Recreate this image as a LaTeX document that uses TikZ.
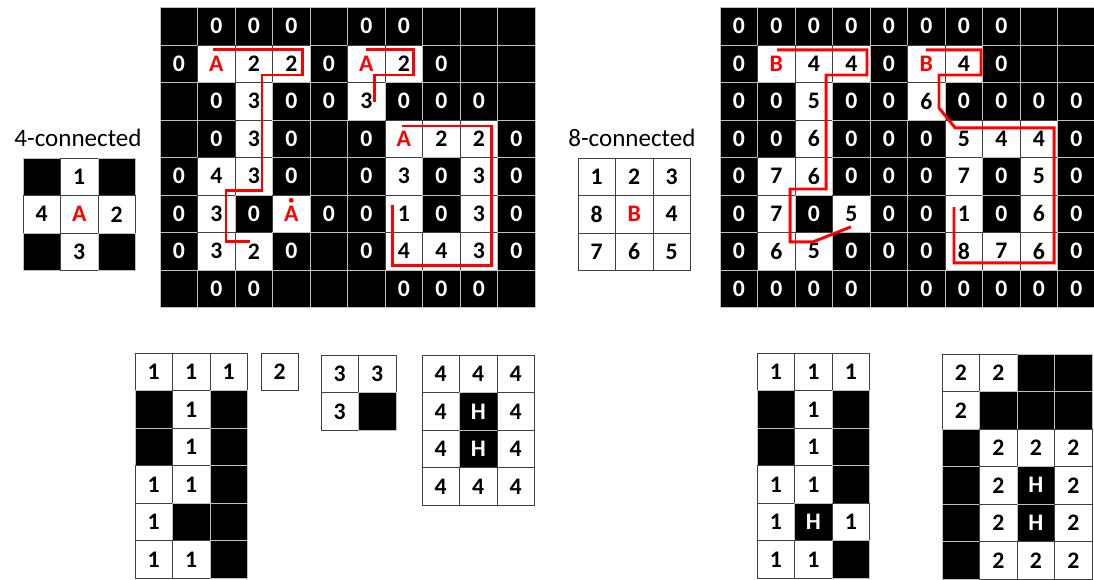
\documentclass[tikz,border=0pt]{standalone}
\usepackage{fontspec}
\setmainfont{Carlito}
\usetikzlibrary{positioning, calc}

\newcommand{\drawcells}[3]{%
  \begin{scope}[shift={#2}]
    \foreach \line [count=\rr from 0] in {#3} {
      \foreach \s/\t [count=\cc from 0] in \line {
        \node[cell\s] (#1-\rr-\cc) at (\cc+0.5,-\rr-0.5) {\t};
      }
    }
  \end{scope}}

\begin{document}
\begin{tikzpicture}[
    cell/.style={rectangle, minimum size=1cm, inner sep=0pt, line width=0.7pt, font=\bfseries\fontsize{18}{20}\selectfont},
    cellk/.style={cell, fill=black, draw=gray!50, text=white},
    cellw/.style={cell, fill=white, draw=black!75, text=black},
    cellr/.style={cellw, text=red},
    title/.style={font=\fontsize{19}{22}\selectfont},
    trace/.style={draw=red, line width=2.2pt}
]
\useasboundingbox (0,0) rectangle (29.173,-15.44);

% 4-connected labelling
\drawcells{la}{(4.267,-0.2)}{
  {k/,k/0,k/0,k/0,k/,k/0,k/0,k/,k/,k/},
  {k/0,r/A,w/2,w/2,k/0,r/A,w/2,k/0,k/,k/},
  {k/,k/0,w/3,k/0,k/0,w/3,k/0,k/0,k/0,k/},
  {k/,k/0,w/3,k/0,k/,k/0,r/A,w/2,w/2,k/0},
  {k/0,w/4,w/3,k/0,k/,k/0,w/3,k/0,w/3,k/0},
  {k/0,w/3,k/0,r/A,k/0,k/0,w/1,k/0,w/3,k/0},
  {k/0,w/3,w/2,k/0,k/,k/0,w/4,w/4,w/3,k/0},
  {k/,k/0,k/0,k/,k/,k/,k/0,k/0,k/0,k/}}
\fill[red] ($(la-5-3.center)+(0,0.36)$) circle (0.065);

\begin{scope}[shift={(4.267,-0.2)}]
  \draw[trace] (1.41,-1.13) -- (3.81,-1.13) -- (3.81,-1.8) -- (2.72,-1.8)
    -- (2.72,-4.87) -- (1.76,-4.87) -- (1.76,-6.25) -- (2.4,-6.25);
  \draw[trace] (5.49,-1.13) -- (6.77,-1.13) -- (6.77,-1.8) -- (5.73,-1.8) -- (5.73,-2.52);
  \draw[trace] (6.45,-3.16) -- (8.85,-3.16) -- (8.85,-6.87) -- (6.19,-6.87) -- (6.19,-5.27);
\end{scope}

% 8-connected labelling
\drawcells{lb}{(19.2,-0.2)}{
  {k/0,k/0,k/0,k/0,k/0,k/0,k/0,k/0,k/,k/},
  {k/0,r/B,w/4,w/4,k/0,r/B,w/4,k/0,k/,k/},
  {k/0,k/0,w/5,k/0,k/0,w/6,k/0,k/0,k/0,k/0},
  {k/0,k/0,w/6,k/0,k/0,k/0,w/5,w/4,w/4,k/0},
  {k/0,w/7,w/6,k/0,k/0,k/0,w/7,k/0,w/5,k/0},
  {k/0,w/7,k/0,w/5,k/0,k/0,w/1,k/0,w/6,k/0},
  {k/0,w/6,w/5,k/0,k/0,k/0,w/8,w/7,w/6,k/0},
  {k/0,k/0,k/0,k/0,k/,k/0,k/0,k/0,k/0,k/0}}

\begin{scope}[shift={(19.2,-0.2)}]
  \draw[trace] (1.52,-1.13) -- (3.92,-1.13) -- (3.92,-1.8) -- (2.83,-1.8)
    -- (2.83,-4.84) -- (1.87,-4.84) -- (1.87,-6.25) -- (2.48,-6.25) -- (3.49,-5.85);
  \draw[trace] (5.49,-1.13) -- (6.96,-1.13) -- (6.96,-1.8) -- (5.84,-1.8) -- (5.84,-2.68)
    -- (6.27,-3.21) -- (8.91,-3.21) -- (8.91,-6.81) -- (6.24,-6.81) -- (6.24,-5.32);
\end{scope}

% neighbourhood masks
\node[title] (t4) at (2.08,-3.68) {4-connected};
\drawcells{na}{(0.613,-4.213)}{
  {k/,w/1,k/},
  {w/4,r/A,w/2},
  {k/,w/3,k/}}
\node[title] (t8) at (16.85,-3.68) {8-connected};
\drawcells{nb}{(15.413,-4.213)}{
  {w/1,w/2,w/3},
  {w/8,r/B,w/4},
  {w/7,w/6,w/5}}

% components, 4-connected
\drawcells{ca}{(3.6,-9.42)}{
  {w/1,w/1,w/1},
  {k/,w/1,k/},
  {k/,w/1,k/},
  {w/1,w/1,k/},
  {w/1,k/,k/},
  {w/1,w/1,k/}}
\drawcells{cb}{(6.96,-9.42)}{{w/2}}
\drawcells{cc}{(8.56,-9.47)}{
  {w/3,w/3},
  {w/3,k/}}
\drawcells{cd}{(11.253,-9.47)}{
  {w/4,w/4,w/4},
  {w/4,k/H,w/4},
  {w/4,k/H,w/4},
  {w/4,w/4,w/4}}

% components, 8-connected
\drawcells{ce}{(20.187,-9.42)}{
  {w/1,w/1,w/1},
  {k/,w/1,k/},
  {k/,w/1,k/},
  {w/1,w/1,k/},
  {w/1,k/H,w/1},
  {w/1,w/1,k/}}
\drawcells{cf}{(25.12,-9.44)}{
  {w/2,w/2,k/,k/},
  {w/2,k/,k/,k/},
  {k/,w/2,w/2,w/2},
  {k/,w/2,k/H,w/2},
  {k/,w/2,k/H,w/2},
  {k/,w/2,w/2,w/2}}

\end{tikzpicture}
\end{document}
